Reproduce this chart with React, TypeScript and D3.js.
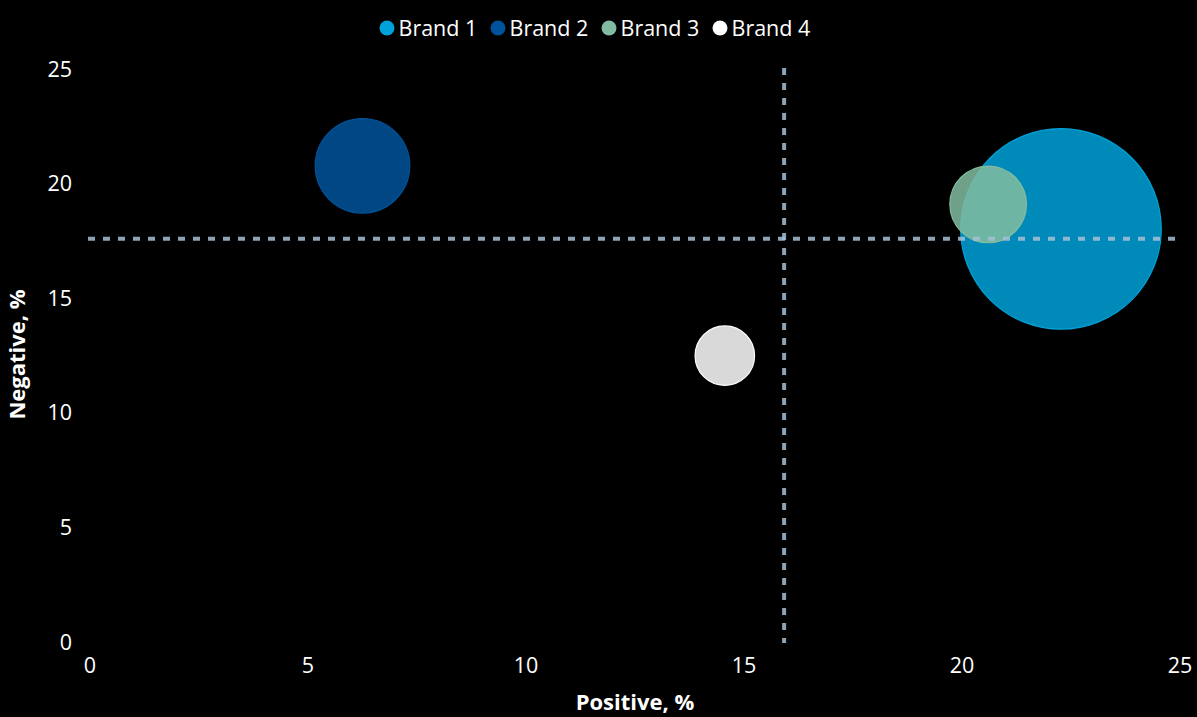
import React from "react";
import * as d3 from "d3";

const brands = ["Brand 1", "Brand 2", "Brand 3", "Brand 4"];
const positive = [22.27, 6.25, 20.6, 14.56];
const negative = [17.98, 20.73, 19.05, 12.45];
const sizes = [100, 22.2, 14.6, 8.8];
const colors = ["#00a2d9", "#00539b", "#82bca0", "#ffffff"];
const xTicks = [0, 5, 10, 15, 20, 25];
const yTicks = [0, 5, 10, 15, 20, 25];

const W = 1197;
const H = 717;
const FONT = "'Segoe UI', 'Open Sans', sans-serif";

export default function App() {
  const x = d3.scaleLinear().domain([0, 25]).range([90, 1180]);
  const y = d3.scaleLinear().domain([0, 25]).range([641, 68]);
  const r = d3.scaleSqrt().domain([0, d3.max(sizes) as number]).range([0, 100.3]);
  const meanX = d3.mean(positive) as number;
  const meanY = d3.mean(negative) as number;

  const legendStart = 387;
  const legendStep = 111;

  return (
    <svg width={W} height={H} style={{ position: "absolute", left: 0, top: 0, background: "#000" }}>
      <rect x={0} y={0} width={W} height={H} fill="#000" />
      {/* legend */}
      <g fontFamily={FONT} fontSize={21.5} fill="#fff">
        {brands.map((b, i) => (
          <g key={b} transform={`translate(${legendStart + i * legendStep},28)`}>
            <circle r={7.5} fill={colors[i]} />
            <text x={11.5} dy="0.35em" fill="#fff">{b}</text>
          </g>
        ))}
      </g>
      {/* ticks */}
      <g fontFamily={FONT} fontSize={21.5} fill="#fff">
        {yTicks.map((t) => (
          <text key={t} x={72} y={y(t) + 1} dy="0.35em" textAnchor="end">{t}</text>
        ))}
        {xTicks.map((t) => (
          <text key={t} x={x(t)} y={665} dy="0.35em" textAnchor="middle">{t}</text>
        ))}
      </g>
      {/* axis titles */}
      <text x={(x(0) + x(25)) / 2} y={702} dy="0.35em" textAnchor="middle" fontFamily={FONT}
        fontSize={22} fontWeight="bold" fill="#fff">Positive, %</text>
      <text transform={`translate(17,${(y(0) + y(25)) / 2}) rotate(-90)`} dy="0.35em" textAnchor="middle"
        fontFamily={FONT} fontSize={22} fontWeight="bold" fill="#fff">Negative, %</text>
      {/* bubbles */}
      <g>
        {brands.map((b, i) => (
          <circle key={b} cx={x(positive[i])} cy={y(negative[i])} r={r(sizes[i])}
            fill={colors[i]} fillOpacity={0.85} stroke={colors[i]} strokeWidth={1.2} />
        ))}
      </g>
      {/* mean lines */}
      <line x1={x(0) - 2} x2={x(25) - 4} y1={y(meanY)} y2={y(meanY)} stroke="#a6c0d6" strokeOpacity={0.85}
        strokeWidth={4} strokeDasharray="7,8" />
      <line x1={x(meanX)} x2={x(meanX)} y1={y(25)} y2={y(0) + 2} stroke="#a6c0d6" strokeOpacity={0.85}
        strokeWidth={4} strokeDasharray="7,8" />
    </svg>
  );
}
